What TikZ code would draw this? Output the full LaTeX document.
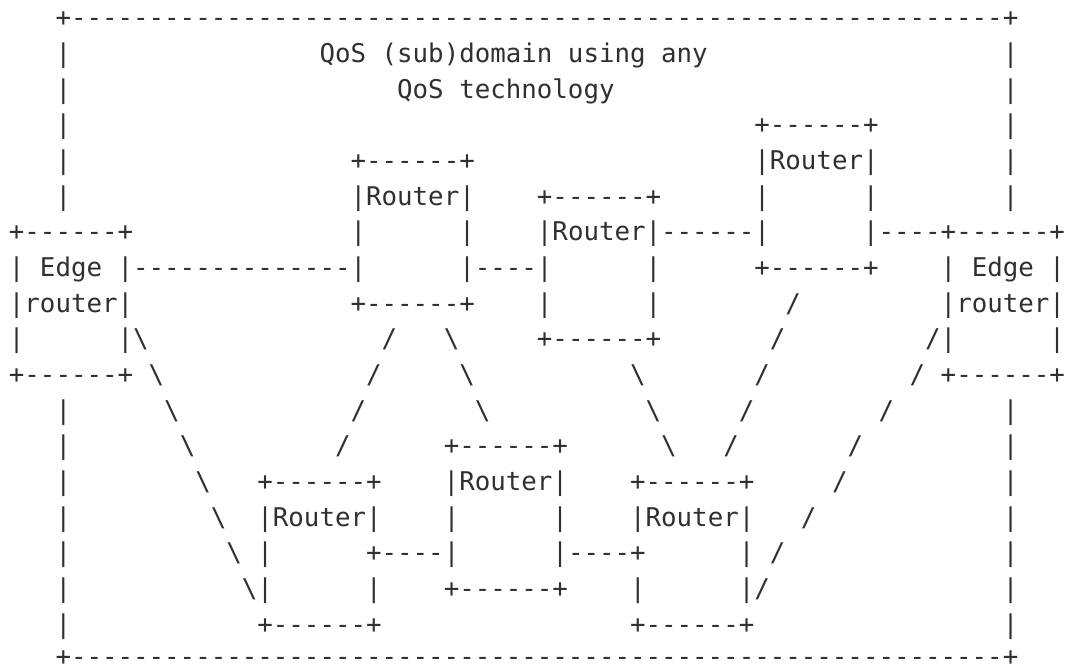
\documentclass[tikz,border=0pt]{standalone}
\usepackage{fontspec}
\setmonofont{DejaVu Sans Mono}
\definecolor{ink}{RGB}{48,48,48}
% one text cell is 11.6475pt wide, one text line is 26.75pt high
\tikzset{
  ascii/.style={anchor=base west, inner sep=0pt, outer sep=0pt, text=ink,
    font=\ttfamily\fontsize{19.3464pt}{26.75pt}\selectfont},
}
\begin{document}
\begin{tikzpicture}[x=11.6475pt, y=-26.7525pt]
\fill[white] (-0.575,-0.7485) rectangle (68.002,17.951);
\useasboundingbox (-0.575,-0.7485) rectangle (68.002,17.951);

% QoS domain frame and title
\node[ascii] (frametop) at (3,0) {+------------------------------------------------------------+};
\node[ascii] (l1a) at (3,1) {|};
\node[ascii] (title1) at (20,1) {QoS (sub)domain using any};
\node[ascii] (l1b) at (64,1) {|};
\node[ascii] (l2a) at (3,2) {|};
\node[ascii] (title2) at (25,2) {QoS technology};
\node[ascii] (l2b) at (64,2) {|};

% upper routers
\node[ascii] (l3a) at (3,3) {|};
\node[ascii] (l3b) at (48,3) {+------+};
\node[ascii] (l3c) at (64,3) {|};
\node[ascii] (l4a) at (3,4) {|};
\node[ascii] (l4b) at (22,4) {+------+};
\node[ascii] (l4c) at (48,4) {|Router|};
\node[ascii] (l4d) at (64,4) {|};
\node[ascii] (l5a) at (3,5) {|};
\node[ascii] (l5b) at (22,5) {|Router|};
\node[ascii] (l5c) at (34,5) {+------+};
\node[ascii] (l5d) at (48,5) {|~~~~~~|};
\node[ascii] (l5e) at (64,5) {|};

% edge routers and the upper links
\node[ascii] (l6a) at (0,6) {+------+};
\node[ascii] (l6b) at (22,6) {|~~~~~~|};
\node[ascii] (l6c) at (34,6) {|Router|------|~~~~~~|----+------+};
\node[ascii] (l7a) at (0,7) {|~Edge~|--------------|~~~~~~|----|~~~~~~|};
\node[ascii] (l7b) at (48,7) {+------+};
\node[ascii] (l7c) at (60,7) {|~Edge~|};
\node[ascii] (l8a) at (0,8) {|router|};
\node[ascii] (l8b) at (22,8) {+------+};
\node[ascii] (l8c) at (34,8) {|~~~~~~|};
\node[ascii] (l8d) at (50,8) {/};
\node[ascii] (l8e) at (60,8) {|router|};
\node[ascii] (l9a) at (0,9) {|~~~~~~|\textbackslash{}};
\node[ascii] (l9b) at (24,9) {/};
\node[ascii] (l9c) at (28,9) {\textbackslash{}};
\node[ascii] (l9d) at (34,9) {+------+};
\node[ascii] (l9e) at (49,9) {/};
\node[ascii] (l9f) at (59,9) {/|~~~~~~|};
\node[ascii] (l10a) at (0,10) {+------+~\textbackslash{}};
\node[ascii] (l10b) at (23,10) {/};
\node[ascii] (l10c) at (29,10) {\textbackslash{}};
\node[ascii] (l10d) at (40,10) {\textbackslash{}};
\node[ascii] (l10e) at (48,10) {/};
\node[ascii] (l10f) at (58,10) {/~+------+};

% diagonal links down to the lower routers
\node[ascii] (l11a) at (3,11) {|};
\node[ascii] (l11b) at (10,11) {\textbackslash{}};
\node[ascii] (l11c) at (22,11) {/};
\node[ascii] (l11d) at (30,11) {\textbackslash{}};
\node[ascii] (l11e) at (41,11) {\textbackslash{}};
\node[ascii] (l11f) at (47,11) {/};
\node[ascii] (l11g) at (56,11) {/};
\node[ascii] (l11h) at (64,11) {|};
\node[ascii] (l12a) at (3,12) {|};
\node[ascii] (l12b) at (11,12) {\textbackslash{}};
\node[ascii] (l12c) at (21,12) {/};
\node[ascii] (l12d) at (28,12) {+------+};
\node[ascii] (l12e) at (42,12) {\textbackslash{}~~~/};
\node[ascii] (l12f) at (54,12) {/};
\node[ascii] (l12g) at (64,12) {|};

% lower routers
\node[ascii] (l13a) at (3,13) {|};
\node[ascii] (l13b) at (12,13) {\textbackslash{}~~~+------+~~~~|Router|~~~~+------+};
\node[ascii] (l13c) at (53,13) {/};
\node[ascii] (l13d) at (64,13) {|};
\node[ascii] (l14a) at (3,14) {|};
\node[ascii] (l14b) at (13,14) {\textbackslash{}~~|Router|~~~~|~~~~~~|~~~~|Router|};
\node[ascii] (l14c) at (51,14) {/};
\node[ascii] (l14d) at (64,14) {|};
\node[ascii] (l15a) at (3,15) {|};
\node[ascii] (l15b) at (14,15) {\textbackslash{}~|~~~~~~+----|~~~~~~|----+~~~~~~|~/};
\node[ascii] (l15c) at (64,15) {|};
\node[ascii] (l16a) at (3,16) {|};
\node[ascii] (l16b) at (15,16) {\textbackslash{}|~~~~~~|~~~~+------+~~~~|~~~~~~|/};
\node[ascii] (l16c) at (64,16) {|};
\node[ascii] (l17a) at (3,17) {|};
\node[ascii] (l17b) at (16,17) {+------+};
\node[ascii] (l17c) at (40,17) {+------+};
\node[ascii] (l17d) at (64,17) {|};
\node[ascii] (framebottom) at (3,17.9) {+------------------------------------------------------------+};
\end{tikzpicture}
\end{document}
